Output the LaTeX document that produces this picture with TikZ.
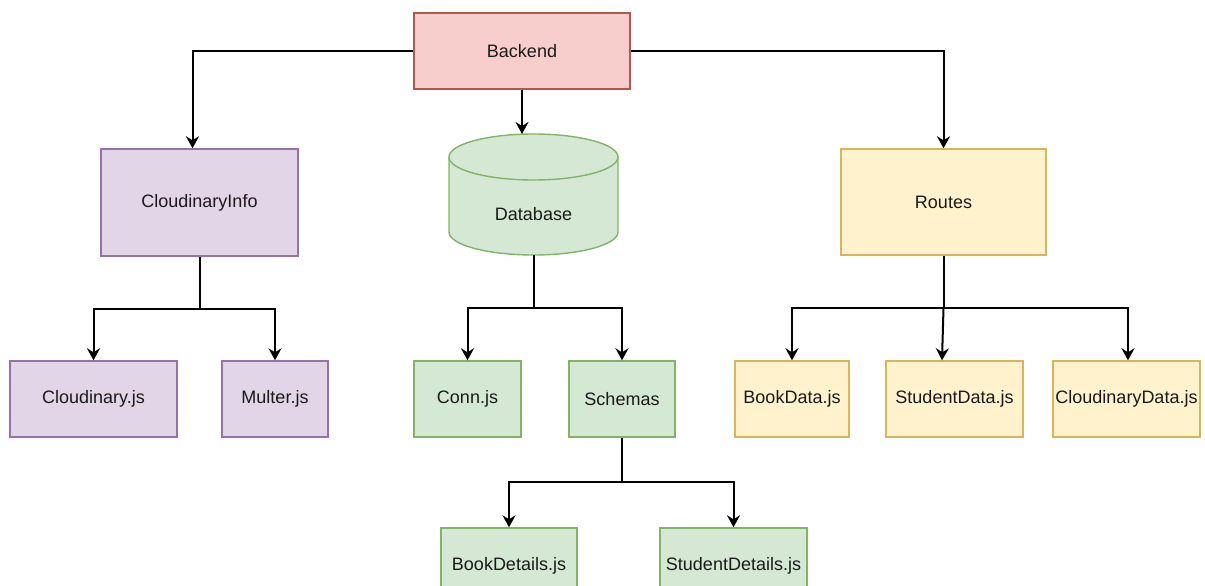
\documentclass[tikz,border=0pt]{standalone}
\usepackage{fontspec}
\setmainfont{Liberation Sans}
\usetikzlibrary{arrows.meta}
\definecolor{redF}{HTML}{F8CECC}\definecolor{redD}{HTML}{B85450}
\definecolor{purF}{HTML}{E1D5E7}\definecolor{purD}{HTML}{9673A6}
\definecolor{grnF}{HTML}{D5E8D4}\definecolor{grnD}{HTML}{82B366}
\definecolor{ylwF}{HTML}{FFF2CC}\definecolor{ylwD}{HTML}{D6B656}
\definecolor{txt}{HTML}{1A1A1A}
\tikzset{
  box/.style={rectangle, line width=1.4pt, inner sep=0pt, text=txt,
    font=\fontsize{18}{21}\selectfont, minimum height=76pt},
  redbox/.style={box, draw=redD, fill=redF},
  purbox/.style={box, draw=purD, fill=purF},
  grnbox/.style={box, draw=grnD, fill=grnF},
  ylwbox/.style={box, draw=ylwD, fill=ylwF},
  arr/.style={line width=2pt, black, -{Stealth[length=12pt,width=13pt,inset=4pt]}},
  ln/.style={line width=2pt, black}
}
\begin{document}
\begin{tikzpicture}[x=1pt,y=-1pt]
\useasboundingbox (0,0) rectangle (1205,586);
\clip (0,0) rectangle (1205,586);
% nodes
\node[redbox, minimum width=216pt] (be) at (522,51) {Backend};
\node[purbox, minimum width=197pt, minimum height=107pt] (ci) at (199.5,202.5) {CloudinaryInfo};
\node[ylwbox, minimum width=205pt, minimum height=106pt] (ro) at (943.5,202) {Routes};
% database cylinder
\fill[grnF] (449,157) -- (449,232) arc[start angle=180,end angle=360,x radius=84.5pt,y radius=23pt]
  -- (618,157) arc[start angle=0,end angle=180,x radius=84.5pt,y radius=23pt] -- cycle;
\draw[grnD, line width=1.4pt] (449,157) -- (449,232) arc[start angle=180,end angle=360,x radius=84.5pt,y radius=23pt]
  -- (618,157);
\draw[grnD, line width=1.4pt] (533.5,157) ellipse[x radius=84.5pt,y radius=23pt];
\node[box, minimum height=0pt] (db) at (533.5,214) {Database};
\coordinate (dbtop) at (522,134);
\coordinate (dbbot) at (534,255);
\node[purbox, minimum width=167pt] (cjs) at (93.5,399) {Cloudinary.js};
\node[purbox, minimum width=106pt] (mu) at (275,399) {Multer.js};
\node[grnbox, minimum width=107pt] (co) at (467.5,399) {Conn.js};
\node[grnbox, minimum width=106pt] (sc) at (622,399) {Schemas};
\node[ylwbox, minimum width=114pt] (bk) at (792,399) {BookData.js};
\node[ylwbox, minimum width=137pt] (sd) at (954.5,399) {StudentData.js};
\node[ylwbox, minimum width=147pt] (cd) at (1126.5,399) {CloudinaryData.js};
\node[grnbox, minimum width=136pt] (bd) at (509,566) {BookDetails.js};
\node[grnbox, minimum width=147pt] (sdt) at (733.5,566) {StudentDetails.js};
% connectors
\draw[arr] (be.west) -| ([xshift=-7pt]ci.north);
\draw[arr] (be.east) -| (ro.north);
\draw[arr] (be.south) -- (dbtop);
\coordinate (cib) at (199.5,309);
\draw[ln] (ci.south) -- (cib);
\draw[arr] (cib) -| (cjs.north);
\draw[arr] (cib) -| (mu.north);
\coordinate (dbb) at (534,308);
\draw[ln] (dbbot) -- (dbb);
\draw[arr] (dbb) -| (co.north);
\draw[arr] (dbb) -| (sc.north);
\coordinate (rob) at (943.5,308);
\draw[ln] (ro.south) -- (rob);
\draw[arr] (rob) -| (bk.north);
\draw[arr] (rob) -- ([xshift=-12.5pt]sd.north);
\draw[arr] (rob) -| ([xshift=1.5pt]cd.north);
\coordinate (scb) at (622,482);
\draw[ln] (sc.south) -- (scb);
\draw[arr] (scb) -| (bd.north);
\draw[arr] (scb) -| (sdt.north);
\end{tikzpicture}
\end{document}
